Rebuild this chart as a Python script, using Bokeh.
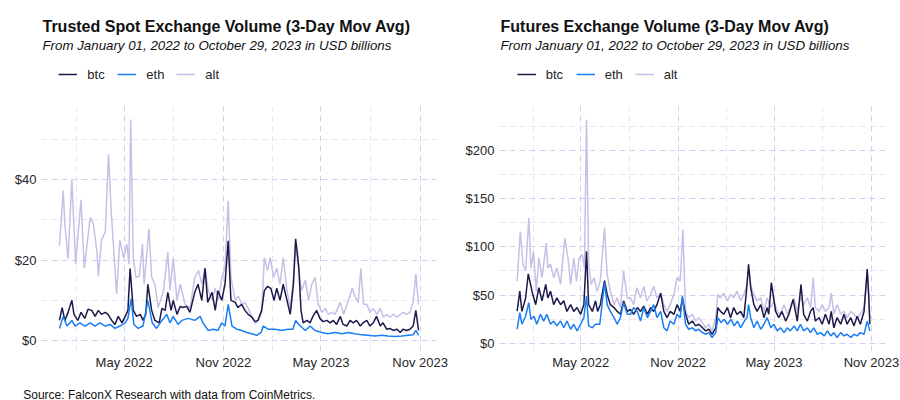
import pandas as pd
from bokeh.plotting import figure
from bokeh.models import (Range1d, FixedTicker, DatetimeTickFormatter, PrintfTickFormatter,
                          Legend, LegendItem, Label, ColumnDataSource)
from bokeh.layouts import row, column
from bokeh.embed import file_html
from bokeh.resources import INLINE

# ---------------- data (day offset from 2022-01-01, value in USD bn) ----------------
START = "2022-01-01"
END_DAY = 666  # 2023-10-29

spot_btc = [(0,5),(5,8.2),(10,5),(16,7),(23,10),(27,6.5),(34,5),(40,7),(47,5.5),(53,7.8),(60,7.5),(66,6),(72,7.5),(78,6.5),(85,7),(90,6.5),(97,5),(103,4),(109,6),(116,4.4),(122,6),(127,7.5),(131,17.9),(137,7.5),(143,6),(150,6.5),(155,5),(160,6.5),(164,14),(171,7.5),(177,5),(185,4.4),(190,8),(196,7.5),(201,12),(207,7.5),(211,10),(218,6.5),(224,8.5),(229,8.2),(236,8.5),(242,7),(251,12),(257,14),(264,10),(270,18),(275,9.5),(283,12),(289,7.5),(294,12.4),(301,10),(307,14),(313,24.8),(318,10),(326,9.5),(331,8.2),(338,9),(344,7.5),(350,6.5),(357,5.8),(363,4.7),(368,5),(375,7.5),(380,12.4),(386,13.5),(392,13),(398,10),(403,13),(409,10),(415,14),(422,10),(428,6.5),(434,14),(438,25.3),(441,22),(444,18),(448,7.5),(452,4.4),(459,5),(465,4.4),(470,6),(477,7.5),(483,5.5),(489,4.7),(496,5),(502,4.4),(508,5),(514,4),(521,6),(526,4),(533,3.6),(539,5),(545,4.4),(551,5),(558,3.6),(563,4.4),(570,5),(576,3.6),(582,4.4),(588,6),(595,3.6),(600,4.4),(607,2.8),(613,3),(619,2.5),(626,2.8),(632,2),(637,2.8),(644,2.5),(650,2.8),(656,3.6),(661,7.5),(666,2.5)]

spot_eth = [(0,3),(7,6),(14,3.6),(23,5),(29,3.6),(38,4.4),(47,3.6),(57,4.4),(66,3.6),(75,4.4),(85,3.6),(94,4),(103,3),(112,3.6),(122,4.4),(127,5.5),(133,10.4),(138,4),(146,3),(155,3.6),(164,9.9),(172,4.4),(180,3),(190,5),(199,6.5),(205,4.4),(211,6),(220,4),(227,5),(239,5.5),(251,5),(261,6),(266,4.4),(276,2.5),(285,2.8),(294,2.5),(301,4.4),(307,3.6),(313,9),(320,3.6),(329,2.8),(338,2.5),(347,2),(357,1.7),(366,1.3),(374,2),(378,3.6),(387,2.8),(400,2.8),(412,2.5),(424,2.8),(433,2.8),(438,5),(444,4),(456,2.5),(465,3.6),(474,2.5),(487,2),(498,1.7),(511,2),(524,1.7),(536,2),(548,1.7),(561,1.4),(572,1.3),(585,1.1),(598,1.3),(609,1.1),(622,1),(635,1.1),(647,1.3),(656,1.4),(661,2.5),(666,1.3)]

spot_alt = [(0,23.6),(7,37.3),(10,29),(16,20.3),(23,40),(30,19),(40,35),(46,18),(57,30.6),(63,29),(70,21.6),(72,16),(78,25),(85,27),(91,46.4),(96,32),(100,24),(106,11.6),(112,25),(119,20.6),(125,24),(129,19),(132,55),(137,20.6),(142,15.7),(148,16),(154,24),(157,14),(166,27.8),(171,15.7),(177,14),(183,8.2),(193,12.4),(201,22),(205,12.4),(211,20.6),(218,10),(224,14),(227,12.4),(233,9),(242,8),(251,15.7),(258,17.4),(264,14),(270,18),(276,12.4),(283,10),(289,13),(295,10),(301,15.7),(307,18),(313,34.8),(318,15.7),(326,10),(332,11),(338,9),(344,9.5),(350,8),(357,5.8),(363,4.2),(369,5),(375,7),(380,20.6),(386,17.4),(391,20.6),(397,15.7),(403,18),(409,14),(415,20.6),(422,12.4),(428,8),(434,15.7),(438,24),(444,17.4),(449,12.4),(456,15),(462,10),(468,14),(474,15.7),(480,9),(487,7),(493,8),(499,6.5),(505,7),(511,6.5),(521,9.5),(527,6.5),(536,10),(543,13),(548,11),(554,9.5),(559,17.9),(564,9),(570,9),(576,7),(582,8),(589,6.5),(595,8),(601,5.8),(607,6.5),(613,5.8),(619,6.5),(626,5.8),(632,6.5),(638,7),(644,6.5),(650,7),(656,9.5),(661,16.6),(666,9)]

fut_btc = [(0,33.4),(5,54),(9,33),(16,47),(21,72),(24,64.5),(28,54),(35,40),(41,57.6),(47,44),(54,61),(58,47),(63,54),(69,40),(75,47),(82,40),(88,44),(94,33),(101,40),(107,33),(113,37),(120,30),(126,40),(131,95.5),(135,40),(142,33),(148,44),(152,33),(157,40),(165,65),(170,50.7),(176,40),(183,37),(189,33),(195,30),(201,44),(208,33),(214,35),(220,30),(227,37),(233,33),(239,38.6),(246,30),(252,37),(258,33),(264,40),(271,52),(277,33),(283,26.5),(289,33),(296,30),(302,40),(308,33),(312,47),(318,30),(324,19.7),(331,23),(337,18),(343,19.7),(350,16),(356,12.8),(362,14.5),(368,9.3),(375,16),(379,37),(384,33),(390,30),(397,37),(403,26.5),(409,37),(415,30),(422,33),(428,26.5),(433,54),(437,82),(441,57.6),(447,40),(453,33),(460,40),(466,26.5),(472,37),(475,30),(480,63),(488,33),(494,26.5),(500,33),(507,23),(513,30),(521,45.5),(529,23),(536,61),(541,30),(548,23),(554,33),(559,37),(563,23),(570,26.5),(576,19.7),(582,30),(589,19.7),(593,33),(598,16),(604,26.5),(611,19.7),(617,30),(623,19.7),(630,26.5),(636,18),(642,28),(648,19.7),(655,33),(661,77),(664,47),(666,19.7)]

fut_eth = [(0,14.5),(5,31.7),(9,19.7),(16,28),(22,42),(26,24.8),(32,28),(37,19.7),(44,30),(50,23),(56,30),(63,19.7),(69,23),(75,18),(82,23),(88,16),(94,23),(101,14.5),(107,19.7),(113,12.8),(120,19.7),(126,26.5),(131,49),(135,18),(142,16),(148,19.7),(156,19.7),(165,62.8),(170,40),(176,33),(183,26.5),(189,19.7),(195,26.5),(201,42),(208,30),(214,30),(220,37),(227,33),(233,23),(239,37),(246,26.5),(252,33),(258,40),(264,26.5),(271,33),(277,16),(283,12.8),(289,23),(296,19.7),(302,30),(308,26.5),(312,49),(318,19.7),(324,14.5),(331,16),(337,12.8),(343,14.5),(350,11),(356,9.3),(362,11),(368,5.9),(375,11),(379,26.5),(385,21.4),(391,24.8),(397,19.7),(404,24.8),(410,18),(416,23),(422,16),(429,23),(434,26.5),(437,40),(441,26.5),(447,16),(453,23),(460,14.5),(466,19.7),(472,26.5),(479,16),(485,19.7),(491,12.8),(497,16),(504,11),(510,16),(516,12.8),(523,18),(529,12.8),(535,19.7),(541,12.8),(548,16),(554,11),(560,16),(567,9.3),(573,11),(580,7.6),(586,12.8),(592,7.6),(598,11),(604,5.9),(611,11),(617,7.6),(623,9.3),(630,5.9),(636,9.3),(642,7.6),(648,11),(655,9.3),(661,23),(666,12.8)]

fut_alt = [(0,64.5),(6,116),(11,82),(16,75),(22,130),(26,78),(31,95.5),(36,54),(41,88.6),(47,68),(55,104),(58,78),(63,82),(69,68),(75,78),(82,61),(90,109),(96,88.6),(101,61),(107,88.6),(112,64.5),(117,88.6),(123,92),(127,78),(131,232),(135,82),(140,61),(145,68),(151,54),(157,64.5),(165,120),(170,71),(176,54),(183,40),(189,47),(195,37),(201,75),(208,47),(214,47),(220,40),(226,57.6),(233,47),(239,59),(245,44),(252,50.7),(258,59),(264,47),(271,52),(277,40),(283,33),(289,40),(296,50.7),(302,68),(308,64.5),(313,118),(318,33),(324,26.5),(331,30),(337,23),(343,26.5),(350,21),(356,16),(362,19.7),(368,12.8),(375,26.5),(379,50.7),(384,47),(390,52),(397,44),(403,50.7),(409,47),(415,54),(422,44),(428,50.7),(434,61),(437,78),(441,61),(447,50.7),(453,44),(460,47),(466,33),(472,47),(479,37),(485,44),(491,33),(497,30),(504,40),(510,30),(516,37),(523,47),(529,33),(535,47),(541,40),(548,47),(554,37),(559,68),(563,37),(570,33),(576,40),(582,33),(589,37),(593,52),(598,30),(604,40),(611,30),(617,33),(623,26.5),(630,33),(636,30),(642,26.5),(648,30),(655,37),(660,61),(662,71),(666,26.5)]

series_names = ["btc", "eth", "alt"]
x_major = ["2022-05-01", "2022-11-01", "2023-05-01", "2023-11-01"]
x_minor = ["2022-02-01", "2022-08-01", "2023-02-01", "2023-08-01"]
spot_y_major = [0, 20, 40]
spot_y_minor = [10, 30, 50]
fut_y_major = [0, 50, 100, 150, 200]
fut_y_minor = [25, 75, 125, 175, 225]

title_spot = "Trusted Spot Exchange Volume (3-Day Mov Avg)"
title_fut = "Futures Exchange Volume (3-Day Mov Avg)"
subtitle = "From January 01, 2022 to October 29, 2023 in USD billions"
source_text = "Source: FalconX Research with data from CoinMetrics."

# ---------------- styling ----------------
COLORS = {"btc": "#1b1a4a", "eth": "#1a7ef2", "alt": "#c7bfe7"}
FONT = "Liberation Sans"
TEXT = "#111111"
GRID_MAJOR = "#d0d1ef"
GRID_MINOR = "#e6e6f5"
HEADER_H = 106
FOOTER_H = 24
MAIN_H = 400 - HEADER_H - FOOTER_H

start_ts = pd.Timestamp(START)


def ms(ts):
    return pd.Timestamp(ts).value / 1e6


def to_source(pairs):
    days = [d for d, _ in pairs]
    vals = [v for _, v in pairs]
    dates = [start_ts + pd.Timedelta(days=d) for d in days]
    return ColumnDataSource(dict(x=dates, y=vals))


def bare(width, height):
    p = figure(width=width, height=height, title=None, x_range=Range1d(0, 1), y_range=Range1d(0, 1),
               x_axis_location=None, y_axis_location=None,
               min_border=0, min_border_left=0, min_border_right=0, min_border_top=0, min_border_bottom=0,
               output_backend="svg", toolbar_location=None)
    p.outline_line_color = None
    p.grid.grid_line_color = None
    return p


def header(title, title_x, legend_x):
    h = bare(450, HEADER_H)
    h.add_layout(Label(x=title_x, y=HEADER_H - 26, x_units="screen", y_units="screen", text=title,
                       text_font=FONT, text_font_size="16px", text_font_style="bold",
                       text_color=TEXT, text_baseline="alphabetic"))
    h.add_layout(Label(x=title_x, y=HEADER_H - 45, x_units="screen", y_units="screen", text=subtitle,
                       text_font=FONT, text_font_size="13.3px", text_font_style="italic",
                       text_color=TEXT, text_baseline="alphabetic"))
    # legend keys: line renderers whose points lie outside this header's (hidden) ranges
    keys = [h.line(x=[5, 6], y=[5, 6], color=COLORS[n], line_width=1.5) for n in series_names]
    legend = Legend(items=[LegendItem(label=n, renderers=[r]) for n, r in zip(series_names, keys)],
                    location=(legend_x, HEADER_H - 82), orientation="horizontal",
                    glyph_width=19, glyph_height=16, label_height=16, label_standoff=10,
                    spacing=10, padding=0, margin=0, border_line_color=None,
                    background_fill_alpha=0, label_text_font=FONT, label_text_font_size="13px",
                    label_text_color="#262626")
    h.add_layout(legend)
    return h


pad = END_DAY * 0.05
x_start = ms(start_ts - pd.Timedelta(days=pad))
x_end = ms(start_ts + pd.Timedelta(days=END_DAY + pad))


def make_panel(data, y_major, y_minor, y_range, bl, br):
    p = figure(x_axis_type="datetime", width=450, height=MAIN_H, title=None,
               min_border_left=bl, min_border_right=br, min_border_top=0, min_border_bottom=MAIN_H - 245,
               x_range=Range1d(x_start, x_end), y_range=Range1d(*y_range),
               output_backend="svg", toolbar_location=None)
    p.outline_line_color = None
    p.background_fill_color = "white"
    p.border_fill_color = "white"

    p.xaxis.ticker = FixedTicker(ticks=[ms(t) for t in x_major], minor_ticks=[ms(t) for t in x_minor])
    fmt = "%b %Y"
    p.xaxis.formatter = DatetimeTickFormatter(milliseconds=fmt, seconds=fmt, minsec=fmt, minutes=fmt,
                                              hourmin=fmt, hours=fmt, days=fmt, months=fmt, years=fmt)
    p.yaxis.ticker = FixedTicker(ticks=y_major, minor_ticks=y_minor)
    p.yaxis.formatter = PrintfTickFormatter(format="$%d")
    for ax in (p.xaxis, p.yaxis):
        ax.axis_line_color = None
        ax.major_tick_line_color = None
        ax.minor_tick_line_color = None
        ax.major_tick_out = 0
        ax.major_tick_in = 0
        ax.minor_tick_out = 0
        ax.minor_tick_in = 0
        ax.major_label_text_font = FONT
        ax.major_label_text_font_size = "13px"
        ax.major_label_text_color = "#262626"
    p.xaxis.major_label_standoff = 3
    p.yaxis.major_label_standoff = 5
    for g in (p.xgrid, p.ygrid):
        g.grid_line_color = GRID_MAJOR
        g.grid_line_dash = "6 4"
        g.grid_line_width = 1
        g.minor_grid_line_color = GRID_MINOR
        g.minor_grid_line_dash = "6 4"
        g.minor_grid_line_width = 1

    for name in ["alt", "btc", "eth"]:
        p.line("x", "y", source=to_source(data[name]), color=COLORS[name], line_width=1.5)
    return p


h1 = header(title_spot, 42, 58.3)
h2 = header(title_fut, 50, 66.7)
p1 = make_panel({"btc": spot_btc, "eth": spot_eth, "alt": spot_alt},
                spot_y_major, spot_y_minor, (-2.74, 58.25), 41, 14)
p2 = make_panel({"btc": fut_btc, "eth": fut_eth, "alt": fut_alt},
                fut_y_major, fut_y_minor, (-8.6, 245.7), 49, 13)

footer = bare(900, FOOTER_H)
footer.add_layout(Label(x=22.7, y=FOOTER_H - 18, x_units="screen", y_units="screen", text=source_text,
                        text_font=FONT, text_font_size="12px", text_color=TEXT, text_baseline="alphabetic"))

layout = column(row(h1, h2), row(p1, p2), footer)
open("out.html", "w").write(file_html(layout, INLINE))
